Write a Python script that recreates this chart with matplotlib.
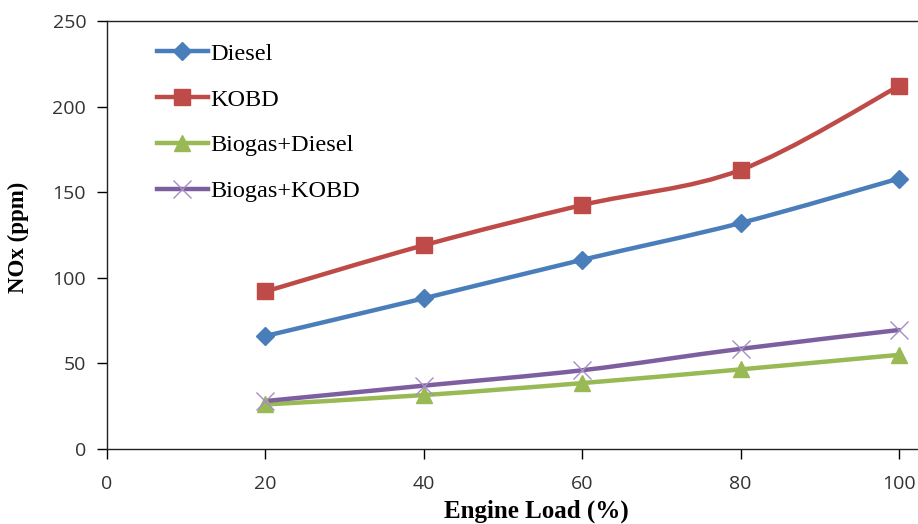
import numpy as np
import matplotlib
matplotlib.use("Agg")
import matplotlib.pyplot as plt
from matplotlib.path import Path
from matplotlib.patches import PathPatch
from matplotlib.lines import Line2D

# engine load vs NOx readings
load = [20, 40, 60, 80, 100]
diesel = [66, 88, 110.5, 132, 158]
kobd = [92, 119, 142.5, 163, 212]
biogas_diesel = [26, 31.5, 38.5, 46.5, 55]
biogas_kobd = [28, 37, 46, 58.5, 69.5]

series = [
    ("Diesel", diesel, "#4a7ebb", "D", 9),
    ("KOBD", kobd, "#be4b48", "s", 12),
    ("Biogas+Diesel", biogas_diesel, "#98b954", "^", 12),
    ("Biogas+KOBD", biogas_kobd, "#7d5fa0", "x", 13),
]


def smooth_path(xs, ys, t=1/6):
    # excel style smoothed line, cubic bezier between the points
    xs = np.asarray(xs, float)
    ys = np.asarray(ys, float)
    verts = [(xs[0], ys[0])]
    codes = [Path.MOVETO]
    n = len(xs)
    for i in range(n - 1):
        p0 = np.array([xs[max(i - 1, 0)], ys[max(i - 1, 0)]])
        p1 = np.array([xs[i], ys[i]])
        p2 = np.array([xs[i + 1], ys[i + 1]])
        p3 = np.array([xs[min(i + 2, n - 1)], ys[min(i + 2, n - 1)]])
        c1 = p1 + (p2 - p0) * t
        c2 = p2 - (p3 - p1) * t
        verts += [tuple(c1), tuple(c2), tuple(p2)]
        codes += [Path.CURVE4] * 3
    return Path(verts, codes)


fig = plt.figure(figsize=(9.18, 5.24), dpi=100)
ax_w = 831.6
ax_h = 428
ax = fig.add_axes([107 / 918, 1 - 449 / 524, ax_w / 918, ax_h / 524])

handles = []
for name, vals, col, mk, ms in series:
    ax.add_patch(PathPatch(smooth_path(load, vals), fill=False, edgecolor=col,
                           lw=3.2, capstyle="round", zorder=2))
    if mk == "x":
        ax.plot(load, vals, ls="none", marker="x", ms=ms, mew=1.0,
                color="#a48fc4", zorder=3)
    else:
        ax.plot(load, vals, ls="none", marker=mk, ms=ms, color=col, zorder=3)
    handles.append(Line2D([], [], color=col, lw=3.2, marker=mk, ms=ms,
                          mew=1.0 if mk == "x" else 1,
                          mfc=col, mec="#a48fc4" if mk == "x" else col,
                          label=name))

ax.set_xlim(0, 105)
ax.set_ylim(0, 250)
ax.set_xticks([0, 20, 40, 60, 80, 100])
ax.set_yticks([0, 50, 100, 150, 200, 250])
ax.spines["right"].set_visible(False)
for s in ["left", "bottom", "top"]:
    ax.spines[s].set_linewidth(1.0)
    ax.spines[s].set_color("#222222")
ax.tick_params(direction="out", length=7, width=1.0, labelsize=14,
               labelcolor="#333333")
for lab in ax.get_xticklabels() + ax.get_yticklabels():
    lab.set_family("Open Sans")
ax.tick_params(axis="x", pad=12)
ax.tick_params(axis="y", pad=8)

ax.set_xlabel("Engine Load (%)", family="Liberation Serif", fontweight="bold",
              fontsize=18)
ax.xaxis.set_label_coords((536 - 107) / ax_w, (449 - 500) / ax_h)
ax.set_ylabel("NOx (ppm)", family="Liberation Serif", fontweight="bold",
              fontsize=16.5)
ax.yaxis.set_label_coords((29 - 107) / ax_w, (449 - 237) / ax_h)

leg = ax.legend(handles=handles, loc="upper left", frameon=False,
                bbox_to_anchor=(40 / ax_w, 1 - 12 / ax_h), handlelength=2.1,
                handletextpad=0.1, labelspacing=0.98, borderaxespad=0,
                prop={"family": "Liberation Serif", "size": 17.5})

fig.savefig("out.png", dpi=100)
